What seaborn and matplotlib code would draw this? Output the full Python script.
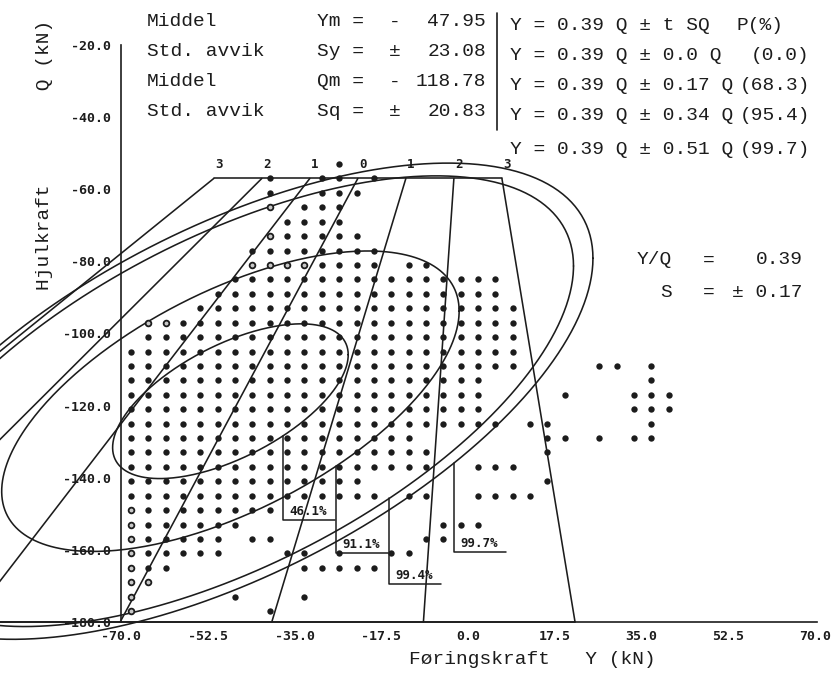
import numpy as np
import pandas as pd
import matplotlib
matplotlib.use("Agg")
import matplotlib.pyplot as plt
import seaborn as sns

# ---- data (kN) ----
# grid of the scatter: column centres (Y) and row centres (Q)
y_cols = [-68.0, -64.5, -61.0, -57.5, -54.0, -50.5, -47.0, -43.5,
          -40.0, -36.5, -33.0, -29.5, -26.0, -22.5, -19.0, -15.5,
          -12.0, -8.5, -5.0, -1.5, 2.0, 5.5, 9.0, 12.5,
          16.0, 19.5, 23.0, 26.5, 30.0, 33.5, 37.0, 40.5]
q_rows = [-53, -57, -61, -65, -69, -73, -77, -81, -85, -89, -93,
          -97, -101, -105, -109, -113, -117, -121, -125, -129, -133,
          -137, -141, -145, -149, -153, -157, -161, -165, -169, -173, -177]
# '#' = filled dot, 'o' = open dot, '.' = empty (spaces only for reading)
dot_rows = [
    "........ ....#... ........ ........",
    "........ #..##.#. ........ ........",
    "........ #..###.. ........ ........",
    "........ o.###... ........ ........",
    "........ .####... ........ ........",
    "........ o#####.. ........ ........",
    ".......# #######. ........ ........",
    ".......o ooo####. ##...... ........",
    "......## ######## ######.. ........",
    ".....### ######## ######.. ........",
    "....#### ######## #######. ........",
    ".oo##### ######## #######. ........",
    ".####### ######## #######. ........",
    "######## ######## #######. ........",
    "######## ######## #######. ...##.#.",
    "######## ######## #####... ......#.",
    "######## ######## #####... .#...###",
    "######## ######## #####... .....###",
    "######## ######## ######.# #.....#.",
    "######## ######## #....... ##.#.##.",
    "######## ######## ##...... #.......",
    "######## ######## ##..###. ........",
    "######## ######.. ........ #.......",
    "######## #######. ##..#### ........",
    "o####### #....... ........ ........",
    "o######. ........ ..###... ........",
    "o#####.# #....... .##..... ........",
    "o#####.. .##.#..# #....... ........",
    "o##..... ..#####. ........ ........",
    "oo...... ........ ........ ........",
    "o.....#. ..#..... ........ ........",
    "o....... #....... ........ ........",
]

# summary statistics printed on the chart
y_mean, y_std = -47.95, 23.08
q_mean, q_std = -118.78, 20.83
yq_ratio, yq_std = 0.39, 0.17
t_steps = [3, 2, 1, 0, -1, -2, -3]
q_top, q_bot = -57.0, -180.0
rho = 0.60
ellipse_pct = ["46.1%", "91.1%", "99.4%", "99.7%"]
ellipse_r = [1.03, 2.0, 3.0, 3.17]
leader_y = [-37.3, -26.6, -15.9, -2.8]
leader_q = [-151.7, -160.9, -169.5, -160.6]

x_ticks = [-70.0, -52.5, -35.0, -17.5, 0.0, 17.5, 35.0, 52.5, 70.0]
y_ticks = [-20.0, -40.0, -60.0, -80.0, -100.0, -120.0, -140.0, -160.0, -180.0]

# ---- tables ----
recs = []
for q, row in zip(q_rows, dot_rows):
    for y, ch in zip(y_cols, row.replace(" ", "")):
        if ch != ".":
            recs.append((y, q, "full" if ch == "#" else "open"))
dots = pd.DataFrame(recs, columns=["Y", "Q", "kind"])

fan = []
for t in t_steps:
    k = yq_ratio + t * yq_std
    for q in (q_top, q_bot):
        fan.append((t, k * q, q))
fan = pd.DataFrame(fan, columns=["t", "Y", "Q"])
edges = pd.concat([
    fan[fan.Q == q_top].assign(side="top"),
    fan[fan.Q == q_bot].assign(side="bot"),
])

cov = np.array([[y_std**2, rho * y_std * q_std],
                [rho * y_std * q_std, q_std**2]])
chol = np.linalg.cholesky(cov)
theta = np.linspace(0, 2 * np.pi, 400)
unit = np.vstack([np.cos(theta), np.sin(theta)])
rings = []
for name, r in zip(ellipse_pct, ellipse_r):
    pts = r * chol @ unit
    rings.append(pd.DataFrame({"Y": y_mean + pts[0], "Q": q_mean + pts[1], "ring": name}))
rings = pd.concat(rings)

# ---- figure ----
sns.set_theme(style="white")
plt.rcParams["font.family"] = ["Liberation Mono", "DejaVu Sans Mono"]
ink = "#1c1c1c"
W, H = 839, 674
fig = plt.figure(figsize=(W / 100, H / 100), dpi=100)
ax = fig.add_axes([0, 0, 1, 1])
ax.set_facecolor("white")
ax.set_xlim(-94.45, 74.87)
ax.set_ylim(-194.43, -7.52)

sns.lineplot(data=rings, x="Y", y="Q", units="ring", estimator=None, sort=False,
             color=ink, lw=1.15, legend=False, ax=ax)
sns.lineplot(data=fan, x="Y", y="Q", units="t", estimator=None, sort=False,
             color=ink, lw=1.15, legend=False, ax=ax)
sns.lineplot(data=edges, x="Y", y="Q", units="side", estimator=None, sort=False,
             color=ink, lw=1.15, legend=False, ax=ax)
sns.scatterplot(data=dots[dots.kind == "full"], x="Y", y="Q", color=ink, s=21,
                linewidth=0, legend=False, ax=ax, zorder=3)
sns.scatterplot(data=dots[dots.kind == "open"], x="Y", y="Q", color=ink,
                facecolor="#c8c8c8", edgecolor=ink, s=17, linewidth=1.3,
                legend=False, ax=ax, zorder=3)

# fan labels
for t in t_steps:
    k = yq_ratio + t * yq_std
    ax.annotate(str(abs(t)), (k * q_top, q_top), xytext=(3.5, 5), textcoords="offset points",
                ha="center", va="bottom", fontsize=9, fontweight="bold",
                family="DejaVu Sans Mono", color=ink)

# percentage leaders
for name, r, yl, qb in zip(ellipse_pct, ellipse_r, leader_y, leader_q):
    u = (yl - y_mean) / (r * y_std)
    v = rho * u - np.sqrt((1 - rho**2) * (1 - u**2))
    qt = q_mean + v * r * q_std
    ax.plot([yl, yl, yl + 10.5], [qt, qb, qb], color=ink, lw=1.1)
    ax.text(yl + 1.2, qb + 0.6, name, ha="left", va="bottom", fontsize=9,
            fontweight="bold", family="DejaVu Sans Mono", color=ink)

# axes
for s in ["top", "right"]:
    ax.spines[s].set_visible(False)
ax.spines["left"].set_position(("data", -70))
ax.spines["left"].set_bounds(-180, -20)
ax.spines["bottom"].set_position(("data", -180))
ax.spines["bottom"].set_bounds(-94.45, 70.5)
for s in ["left", "bottom"]:
    ax.spines[s].set_color(ink)
    ax.spines[s].set_linewidth(1.2)
ax.set_xticks(x_ticks)
ax.set_xticklabels([f"{v:.1f}" for v in x_ticks])
ax.set_yticks(y_ticks)
ax.set_yticklabels([f"{v:.1f}" for v in y_ticks])
ax.tick_params(axis="x", direction="inout", length=7, width=1.1, pad=2, colors=ink)
ax.tick_params(axis="y", direction="out", length=5, width=1.1, pad=2, colors=ink)
for lab in ax.get_xticklabels() + ax.get_yticklabels():
    lab.set_family("DejaVu Sans Mono")
    lab.set_fontweight("bold")
    lab.set_fontsize(9.5)
ax.set_xlabel("")
ax.set_ylabel("")


def put(x, y, s, **kw):
    kw.setdefault("va", "center")
    kw.setdefault("fontsize", 14)
    kw.setdefault("color", ink)
    ax.text(x / W, 1 - y / H, s, transform=ax.transAxes, **kw)


put(532, 660, "Føringskraft   Y (kN)", ha="center")
put(45, 155, "Hjulkraft        Q (kN)", ha="center", rotation=90)

left_names = ["Middel", "Std. avvik", "Middel", "Std. avvik"]
left_syms = ["Ym =", "Sy =", "Qm =", "Sq ="]
left_sign = ["-", "±", "-", "±"]
left_vals = ["47.95", "23.08", "118.78", "20.83"]
for i, yy in enumerate([22, 52, 82, 112]):
    put(147, yy, left_names[i])
    put(317, yy, left_syms[i])
    put(395, yy, left_sign[i], ha="center")
    put(486, yy, left_vals[i], ha="right")
ax.plot([497 / W, 497 / W], [1 - 13 / H, 1 - 130 / H], transform=ax.transAxes,
        color=ink, lw=1.2)

right_eq = ["Y = 0.39 Q ± t SQ", "Y = 0.39 Q ± 0.0 Q", "Y = 0.39 Q ± 0.17 Q",
            "Y = 0.39 Q ± 0.34 Q", "Y = 0.39 Q ± 0.51 Q"]
right_p = ["P(%)", "(0.0)", "(68.3)", "(95.4)", "(99.7)"]
right_pos = [783, 810, 810, 810, 810]
for i, yy in enumerate([25, 55, 85, 115, 149]):
    put(510, yy, right_eq[i])
    put(right_pos[i], yy, right_p[i], ha="right")

put(637, 260, "Y/Q")
put(703, 260, "=")
put(803, 260, "0.39", ha="right")
put(660, 292, "S")
put(703, 292, "=")
put(803, 292, "± 0.17", ha="right")

fig.savefig("out.png", dpi=100, facecolor="white")
